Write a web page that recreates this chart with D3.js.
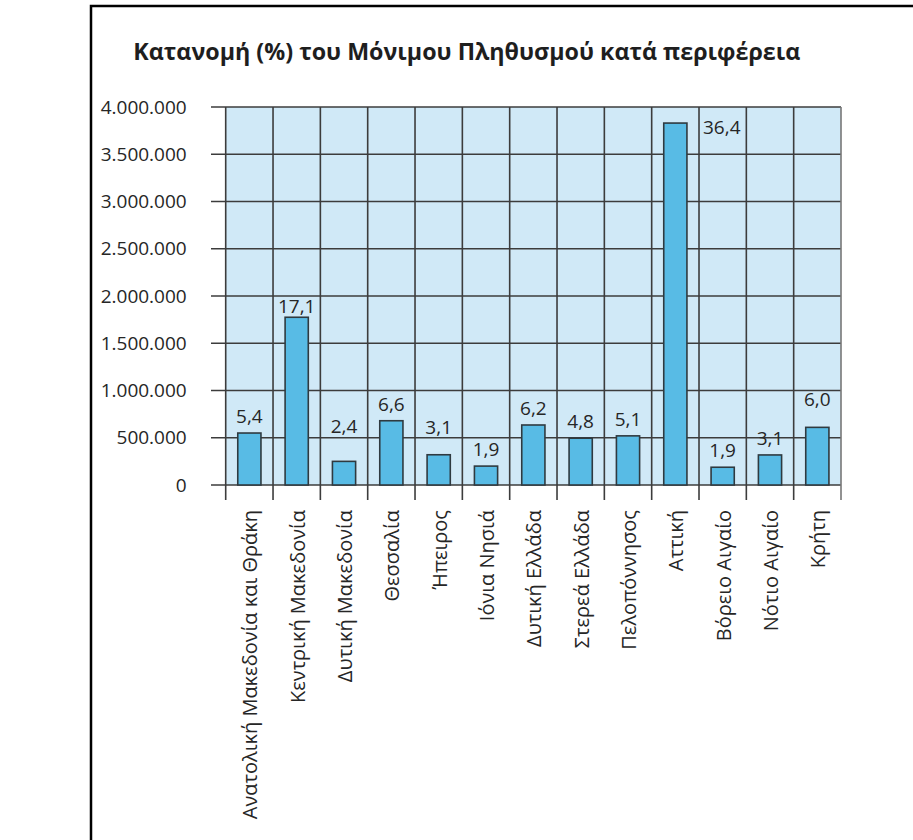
<!DOCTYPE html>
<html>
<head>
<meta charset="utf-8">
<script src="https://cdn.jsdelivr.net/npm/d3@7"></script>
<style>
  html, body { margin: 0; padding: 0; background: #ffffff; }
  svg { display: block; }
  text { font-family: "Open Sans", "Noto Sans", sans-serif; }
</style>
</head>
<body>
<svg id="chart" width="913" height="840"></svg>
<script>
// ---- data ----
const title = "Κατανομή (%) του Μόνιμου Πληθυσμού κατά περιφέρεια";
const regions = [
  "Ανατολική Μακεδονία και Θράκη",
  "Κεντρική Μακεδονία",
  "Δυτική Μακεδονία",
  "Θεσσαλία",
  "Ήπειρος",
  "Ιόνια Νησιά",
  "Δυτική Ελλάδα",
  "Στερεά Ελλάδα",
  "Πελοπόννησος",
  "Αττική",
  "Βόρειο Αιγαίο",
  "Νότιο Αιγαίο",
  "Κρήτη"
];
const population = [550000, 1775000, 250000, 680000, 320000, 200000, 635000, 495000, 520000, 3830000, 188000, 318000, 610000];
const percentLabels = ["5,4", "17,1", "2,4", "6,6", "3,1", "1,9", "6,2", "4,8", "5,1", "36,4", "1,9", "3,1", "6,0"];
const yTickValues = [0, 500000, 1000000, 1500000, 2000000, 2500000, 3000000, 3500000, 4000000];

// ---- layout ----
const svg = d3.select("#chart");
const plotLeft = 225.7, plotRight = 841, plotTop = 107, plotBottom = 485;
const gridColor = "#3c3c3c";
const textColor = "#262626";

const x = d3.scaleBand().domain(regions).range([plotLeft, plotRight]).padding(0);
const y = d3.scaleLinear().domain([0, 4000000]).range([plotBottom, plotTop]);
const grFmt = d3.formatLocale({decimal: ",", thousands: ".", grouping: [3], currency: ["", "€"]}).format(",d");

// frame
svg.append("path")
  .attr("d", "M91,840 V6 H913")
  .attr("fill", "none")
  .attr("stroke", "#000")
  .attr("stroke-width", 2.5);

// title
svg.append("text")
  .attr("x", 133.3).attr("y", 59.5)
  .attr("font-size", 23).attr("font-weight", 700)
  .attr("fill", "#1e1e1e")
  .attr("textLength", 667).attr("lengthAdjust", "spacingAndGlyphs")
  .text(title);

// plot background
svg.append("rect")
  .attr("x", plotLeft).attr("y", plotTop)
  .attr("width", plotRight - plotLeft).attr("height", plotBottom - plotTop)
  .attr("fill", "#d0e9f7");

// horizontal grid lines (with left ticks)
svg.append("g").selectAll("line").data(yTickValues).join("line")
  .attr("x1", 211).attr("x2", plotRight)
  .attr("y1", d => y(d)).attr("y2", d => y(d))
  .attr("stroke", gridColor).attr("stroke-width", 1.6);

// vertical grid lines at band boundaries, extending below axis as ticks
const boundaries = regions.map(r => x(r)).concat([plotRight]);
svg.append("g").selectAll("line").data(boundaries).join("line")
  .attr("x1", d => d).attr("x2", d => d)
  .attr("y1", plotTop).attr("y2", plotBottom + 15)
  .attr("stroke", (d, i) => i === boundaries.length - 1 ? "#777" : gridColor)
  .attr("stroke-width", 1.6);

// y tick labels via axis
const yAxis = svg.append("g")
  .attr("transform", `translate(${plotLeft},0)`)
  .call(d3.axisLeft(y).tickValues(yTickValues).tickFormat(grFmt).tickSize(0).tickPadding(39));
yAxis.select(".domain").remove();
yAxis.selectAll("text")
  .attr("font-size", 19)
  .attr("font-family", "\"Open Sans\", sans-serif")
  .attr("fill", textColor);

// bars
const barW = x.bandwidth() * 0.49;
svg.append("g").selectAll("rect").data(regions).join("rect")
  .attr("x", d => x(d) + (x.bandwidth() - barW) / 2)
  .attr("y", (d, i) => y(population[i]))
  .attr("width", barW)
  .attr("height", (d, i) => y(0) - y(population[i]))
  .attr("fill", "#58bbe5")
  .attr("stroke", "#2f3a40")
  .attr("stroke-width", 1.6);

// value labels
const nudge = {2: -18, 4: -11, 12: -11, 1: 6};
svg.append("g").selectAll("text").data(regions).join("text")
  .attr("x", (d, i) => i === 9 ? x(d) + x.bandwidth() + 4 : x(d) + x.bandwidth() / 2)
  .attr("y", (d, i) => i === 9 ? y(population[i]) + 11 : y(population[i]) - 10 + (nudge[i] || 0))
  .attr("text-anchor", (d, i) => i === 9 ? "start" : "middle")
  .attr("font-size", 19)
  .attr("fill", textColor)
  .text((d, i) => percentLabels[i]);

// x labels rotated
svg.append("g").selectAll("text").data(regions).join("text")
  .attr("transform", d => `translate(${x(d) + x.bandwidth() / 2 + 8},510) rotate(-90)`)
  .attr("text-anchor", "end")
  .attr("font-size", 20)
  .attr("fill", textColor)
  .text(d => d);
</script>
</body>
</html>
